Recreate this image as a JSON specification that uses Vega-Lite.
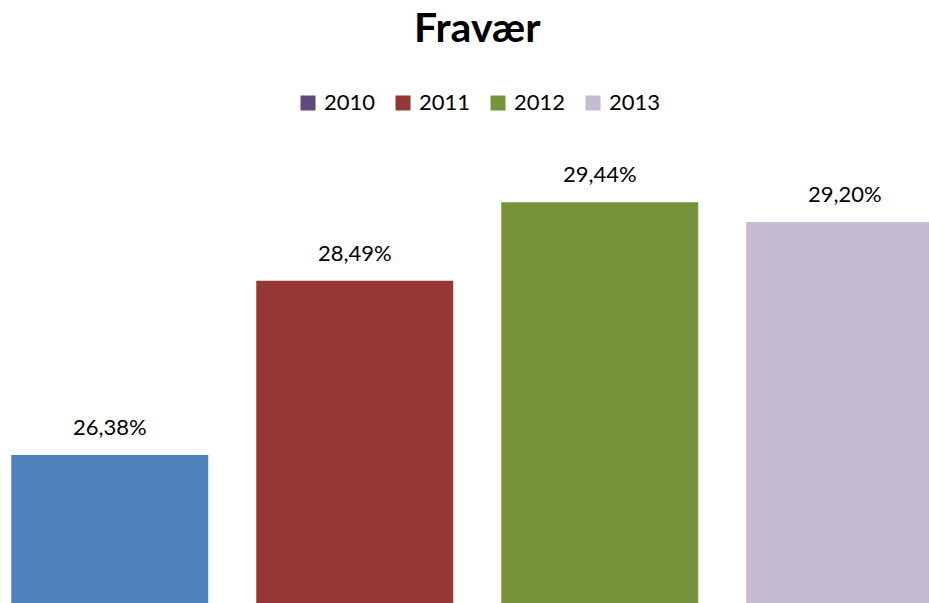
{
  "$schema": "https://vega.github.io/schema/vega-lite/v6.json",
  "autosize": {"type": "none"},
  "padding": {"top": 156, "left": 0, "right": 0, "bottom": 0},
  "width": 954.5,
  "height": 447,
  "title": {
    "text": "Fravær",
    "font": "Lato",
    "fontSize": 41,
    "fontWeight": "bold",
    "color": "#000000",
    "anchor": "middle",
    "baseline": "top",
    "offset": 41
  },
  "data": {
    "values": [
      {"year": "2010", "value": 0.2638},
      {"year": "2011", "value": 0.2849},
      {"year": "2012", "value": 0.2944},
      {"year": "2013", "value": 0.2920}
    ]
  },
  "encoding": {
    "x": {
      "field": "year",
      "type": "nominal",
      "axis": null,
      "scale": {"paddingInner": 0.196, "paddingOuter": 0.046}
    },
    "y": {
      "field": "value",
      "type": "quantitative",
      "axis": null,
      "scale": {"domain": [0.2459, 0.30], "zero": false, "clamp": true, "nice": false}
    }
  },
  "layer": [
    {
      "transform": [{"filter": "datum.value < 0"}],
      "mark": {"type": "bar"},
      "encoding": {
        "color": {
          "field": "year",
          "type": "nominal",
          "scale": {
            "domain": ["2010", "2011", "2012", "2013"],
            "range": ["#604A7B", "#953735", "#77933C", "#C4BAD2"]
          },
          "legend": {
            "title": null,
            "orient": "none",
            "direction": "horizontal",
            "legendX": 297,
            "legendY": -64,
            "symbolType": "square",
            "symbolSize": 225,
            "symbolStrokeWidth": 0,
            "labelFont": "Lato",
            "labelFontSize": 22,
            "labelColor": "#000000",
            "labelOffset": 5,
            "columnPadding": 16
          }
        }
      }
    },
    {
      "mark": {"type": "bar"},
      "encoding": {
        "color": {
          "field": "year",
          "type": "nominal",
          "scale": {
            "domain": ["2010", "2011", "2012", "2013"],
            "range": ["#4F81BD", "#953735", "#77933C", "#C4BAD2"]
          },
          "legend": null
        }
      }
    },
    {
      "mark": {
        "type": "text",
        "font": "Lato",
        "fontSize": 22,
        "color": "#000000",
        "baseline": "alphabetic",
        "dy": -20
      },
      "encoding": {
        "text": {"field": "value", "type": "quantitative", "format": ".2%"}
      }
    }
  ],
  "resolve": {"scale": {"color": "independent"}},
  "config": {
    "view": {"stroke": null},
    "locale": {
      "number": {
        "decimal": ",",
        "thousands": ".",
        "grouping": [3],
        "currency": ["", " kr."]
      }
    }
  }
}
